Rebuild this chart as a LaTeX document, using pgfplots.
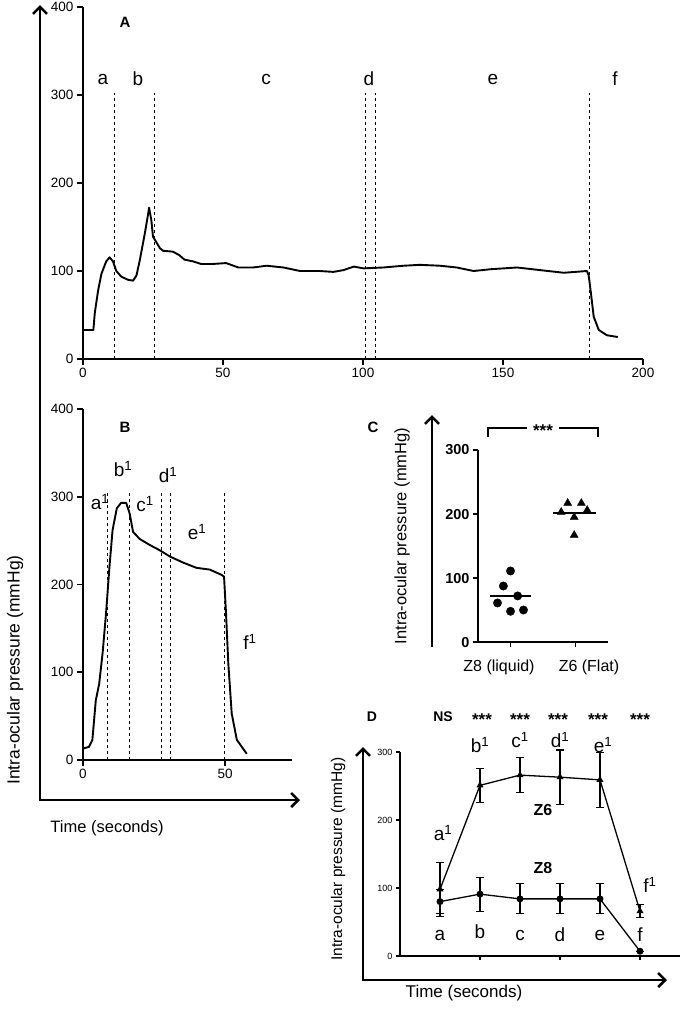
\documentclass[border=0pt]{standalone}
\usepackage{fontspec}
\setmainfont{Liberation Sans}
\usepackage{pgfplots}
\pgfplotsset{compat=1.18}
\usetikzlibrary{arrows.meta}

\pgfplotsset{
  panel/.style={
    scale only axis, anchor=south west, clip=false,
    axis x line=bottom, axis y line=left,
    axis line style={-, line width=2.6pt},
    tick align=outside, major tick length=6pt,
    tick style={line width=1.8pt, black},
    /pgf/number format/assume math mode=true,
    ticklabel style={font=\fontsize{13.5}{15}\selectfont},
  },
  vline/.style={black, line width=1pt, dash pattern=on 3.5pt off 2.5pt},
}

\begin{document}
\begin{tikzpicture}
\useasboundingbox (0pt,0pt) rectangle (685pt,-1018pt);

% A: full trace
\begin{axis}[panel, at={(83pt,-359pt)}, width=560pt, height=352pt,
  xmin=0, xmax=200, ymin=0, ymax=400,
  xtick={0,50,100,150,200}, ytick={0,100,200,300,400}]
\addplot[black, line width=1.9pt, line join=round] coordinates {
  (0,33)(3.7,33)(4.2,52)(5.4,78)(6.6,97)(8.3,111)(9.5,115.5)(10.7,111)
  (11.9,100)(13.7,93.5)(16.1,90)(17.9,89)(19.1,95)(20.3,112.5)(22.1,143)
  (23.3,165.6)(23.6,172)(24.4,158)(25,139)(27.5,125.8)(28.6,123)(32.1,122)
  (34.4,118)(36.2,113)(39.2,111)(42.2,108)(46.4,108)(51.1,109)(55.5,104)
  (60.8,104)(65.6,106)(71.6,104)(77.5,100)(84.6,100)(89.4,99)(93,101)
  (96.7,105)(100.2,103)(107.3,104)(114.5,106)(120.4,107)(127.5,106)
  (133.5,104)(139.5,100)(145.5,102)(155,104)(163.3,101)(171.7,98)(180,100)
  (180.6,95)(181.4,75)(182.4,48)(184.2,33)(187.1,27)(191,25)};
\addplot[vline] coordinates {(11.1,0)(11.1,302)};
\addplot[vline] coordinates {(25.7,0)(25.7,302)};
\addplot[vline] coordinates {(101,0)(101,302)};
\addplot[vline] coordinates {(104.3,0)(104.3,302)};
\addplot[vline] coordinates {(181,0)(181,302)};
\end{axis}

% B: flat trace
\begin{axis}[panel, at={(83pt,-760pt)}, width=209pt, height=351pt,
  xmin=0, xmax=73.5, ymin=0, ymax=400,
  xtick={0,50}, ytick={0,100,200,300,400}]
\addplot[black, line width=1.9pt, line join=round] coordinates {
  (0,13)(2.1,15)(3.3,23)(4.5,68)(5.7,87)(6.9,122)(8.1,167)(9.3,220)
  (10.4,262)(11.9,287)(13.4,293)(15.2,293)(16.4,281)(17.6,260)(19.9,252)
  (23.5,245)(27,239)(30.5,232)(35.2,225)(39.9,219)(44.6,217)(48.7,211)
  (49.6,209)(50.3,167)(51.1,110)(52.3,53)(54.1,23)(57.6,7)};
\addplot[vline] coordinates {(8.6,0)(8.6,306)};
\addplot[vline] coordinates {(16.2,0)(16.2,306)};
\addplot[vline] coordinates {(27.7,0)(27.7,306)};
\addplot[vline] coordinates {(30.7,0)(30.7,306)};
\addplot[vline] coordinates {(49.8,0)(49.8,306)};
\end{axis}

% C: scatter
\begin{axis}[panel, at={(478pt,-642pt)}, width=130pt, height=192pt,
  xmin=0.5, xmax=2.5, ymin=0, ymax=300,
  xtick={1,2}, xticklabels={}, ytick={0,100,200,300}, major tick length=5pt,
  yticklabel style={font=\bfseries\fontsize{14.5}{16}\selectfont}]
\addplot[only marks, mark=*, mark size=4.2pt, black] coordinates {
  (1.0,111)(0.89,87.5)(1.11,72)(0.8,61)(1.0,48)(1.2,50)};
\addplot[only marks, mark=triangle*, mark size=4.6pt, black] coordinates {
  (1.88,217)(2.09,217)(1.78,203)(2.18,206)(1.98,195)(1.98,167)};
\addplot[black, line width=1.8pt] coordinates {(0.68,72)(1.32,72)};
\addplot[black, line width=1.8pt] coordinates {(1.66,201)(2.32,201)};
\end{axis}

% D: means with error bars
\begin{axis}[panel, at={(400pt,-956pt)}, width=280pt, height=204pt,
  xmin=0, xmax=7, ymin=0, ymax=300,
  xtick={2,4,6}, xticklabels={}, ytick={0,100,200,300},
  major tick length=4pt, axis line style={-, line width=2.2pt},
  ticklabel style={font=\fontsize{9}{10}\selectfont}]
\addplot[black, line width=1.3pt, mark=*, mark size=2.8pt,
  error bars/.cd, y dir=both, y explicit,
  error bar style={line width=1.1pt},
  error mark options={rotate=90, mark size=4pt, line width=1.1pt}]
  coordinates {(1,80) +- (0,18) (2,91) +- (0,25) (3,84) +- (0,22)
               (4,84) +- (0,22) (5,84) +- (0,22) (6,7) +- (0,0)};
\addplot[black, line width=1.3pt, mark=triangle*, mark size=2.8pt,
  error bars/.cd, y dir=both, y explicit,
  error bar style={line width=1.1pt},
  error mark options={rotate=90, mark size=4pt, line width=1.1pt}]
  coordinates {(1,98) +- (0,40) (2,251) +- (0,25) (3,266) +- (0,26)
               (4,263) +- (0,40) (5,259) +- (0,40) (6,66) +- (0,10)};
\end{axis}

\begin{scope}[x=1pt, y=-1pt]
\tikzset{lab/.style={font=\fontsize{19}{21}\selectfont, inner sep=0pt},
         bld/.style={font=\bfseries\fontsize{14}{16}\selectfont, inner sep=0pt},
         ast/.style={font=\bfseries\fontsize{17}{19}\selectfont, inner sep=0pt},
         arr/.style={line width=2.6pt, {Straight Barb[length=7pt,width=14pt]}-{Straight Barb[length=7pt,width=14pt]}}}
% outer axes, A and B
\draw[arr] (40,5) -- (40,800) -- (300,800);
\node[rotate=90, font=\fontsize{17.5}{19}\selectfont] at (15,670) {Intra-ocular pressure (mmHg)};
\node[font=\fontsize{16.5}{18}\selectfont] at (107,828) {Time (seconds)};
% A labels
\node[bld, font=\bfseries\fontsize{15}{17}\selectfont] at (125,22) {A};
\node[lab] at (103,79) {a};
\node[lab] at (138,79) {b};
\node[lab] at (266,79) {c};
\node[lab] at (369,79) {d};
\node[lab] at (493,79) {e};
\node[lab] at (615,79) {f};
% B labels
\node[bld, font=\bfseries\fontsize{15}{17}\selectfont] at (125,427) {B};
\node[lab] at (100,502) {a\textsuperscript{1}};
\node[lab] at (123,469) {b\textsuperscript{1}};
\node[lab] at (145,504) {c\textsuperscript{1}};
\node[lab] at (168,475) {d\textsuperscript{1}};
\node[lab] at (197,532) {e\textsuperscript{1}};
\node[lab] at (250,642) {f\textsuperscript{1}};
% C
\draw[line width=2.6pt, -{Straight Barb[length=7pt,width=14pt]}] (432,647) -- (432,415);
\node[rotate=90, font=\fontsize{16.5}{18}\selectfont] at (402,536) {Intra-ocular pressure (mmHg)};
\node[bld, font=\bfseries\fontsize{15}{17}\selectfont] at (373,427) {C};
\draw[line width=1.3pt] (488,437) -- (488,428) -- (527,428);
\draw[line width=1.3pt] (559,428) -- (598,428) -- (598,437);
\node[ast] at (543,431) {***};
\node[font=\fontsize{16}{18}\selectfont] at (499,667) {Z8 (liquid)};
\node[font=\fontsize{16}{18}\selectfont] at (589,667) {Z6 (Flat)};
% D
\draw[arr] (363,747) -- (363,980) -- (667,980);
\node[rotate=90, font=\fontsize{15.5}{17}\selectfont] at (338,859) {Intra-ocular pressure (mmHg)};
\node[font=\fontsize{17}{19}\selectfont] at (464,993) {Time (seconds)};
\node[bld] at (372,717) {D};
\node[bld] at (443,717) {NS};
\foreach \x in {482,520,558,598,640} \node[ast] at (\x,720) {***};
\node[lab] at (480,745) {b\textsuperscript{1}};
\node[lab] at (520,740) {c\textsuperscript{1}};
\node[lab] at (560,740) {d\textsuperscript{1}};
\node[lab] at (603,745) {e\textsuperscript{1}};
\node[lab] at (443,833) {a\textsuperscript{1}};
\node[lab] at (650,885) {f\textsuperscript{1}};
\node[bld, font=\bfseries\fontsize{16}{18}\selectfont] at (543,810) {Z6};
\node[bld, font=\bfseries\fontsize{16}{18}\selectfont] at (543,868) {Z8};
\node[lab] at (440,935) {a};
\node[lab] at (480,932) {b};
\node[lab] at (520,935) {c};
\node[lab] at (560,935) {d};
\node[lab] at (600,935) {e};
\node[lab] at (640,935) {f};
\end{scope}
\end{tikzpicture}
\end{document}
